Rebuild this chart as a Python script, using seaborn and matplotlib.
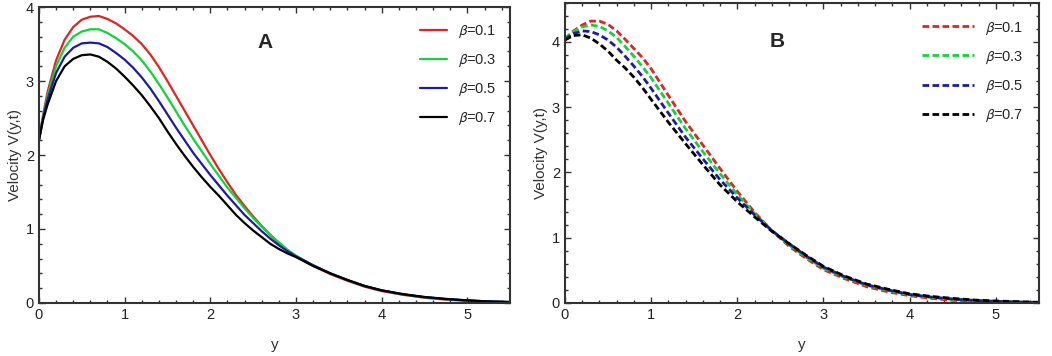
import numpy as np
import pandas as pd
import matplotlib
matplotlib.use("Agg")
import matplotlib.pyplot as plt
from matplotlib.ticker import MultipleLocator
import seaborn as sns

# panel A (solid lines)
y_a = [0, 0.05, 0.1, 0.2, 0.3, 0.4, 0.5, 0.6, 0.7, 0.8, 0.9, 1.0, 1.1, 1.2, 1.3, 1.4, 1.5, 1.6, 1.7,
       1.8, 1.9, 2.0, 2.1, 2.2, 2.3, 2.4, 2.5, 2.6, 2.7, 2.8, 2.9, 3.0, 3.2, 3.4, 3.6, 3.8, 4.0,
       4.25, 4.5, 4.75, 5.0, 5.25, 5.5]
a_b01 = [2.20, 2.55, 2.85, 3.28, 3.56, 3.73, 3.83, 3.87, 3.88, 3.84, 3.78, 3.70, 3.61, 3.50, 3.36,
         3.19, 3.00, 2.80, 2.60, 2.40, 2.20, 2.00, 1.81, 1.63, 1.46, 1.31, 1.17, 1.04, 0.92, 0.81,
         0.71, 0.63, 0.50, 0.39, 0.30, 0.22, 0.16, 0.11, 0.07, 0.045, 0.03, 0.02, 0.01]
a_b03 = [2.20, 2.53, 2.80, 3.20, 3.45, 3.60, 3.67, 3.70, 3.70, 3.65, 3.58, 3.50, 3.40, 3.28, 3.13,
         2.96, 2.78, 2.59, 2.40, 2.22, 2.05, 1.88, 1.72, 1.56, 1.42, 1.28, 1.15, 1.03, 0.92, 0.82,
         0.72, 0.64, 0.51, 0.40, 0.31, 0.23, 0.17, 0.115, 0.075, 0.05, 0.032, 0.02, 0.012]
a_b05 = [2.20, 2.51, 2.75, 3.11, 3.33, 3.45, 3.51, 3.52, 3.51, 3.46, 3.38, 3.29, 3.18, 3.05, 2.90,
         2.73, 2.55, 2.37, 2.20, 2.03, 1.88, 1.73, 1.59, 1.45, 1.32, 1.19, 1.08, 0.97, 0.87, 0.78,
         0.70, 0.63, 0.51, 0.40, 0.31, 0.23, 0.17, 0.115, 0.08, 0.052, 0.034, 0.02, 0.012]
a_b07 = [2.20, 2.48, 2.68, 3.00, 3.20, 3.30, 3.35, 3.36, 3.33, 3.26, 3.17, 3.06, 2.94, 2.81, 2.66,
         2.50, 2.32, 2.15, 1.99, 1.84, 1.70, 1.57, 1.45, 1.32, 1.19, 1.08, 0.98, 0.89, 0.80, 0.73,
         0.67, 0.62, 0.50, 0.40, 0.31, 0.23, 0.17, 0.12, 0.08, 0.055, 0.035, 0.02, 0.012]

# panel B (dashed lines)
y_b = [0, 0.1, 0.2, 0.3, 0.4, 0.5, 0.6, 0.7, 0.8, 0.9, 1.0, 1.2, 1.4, 1.6, 1.8, 2.0, 2.2, 2.4, 2.6,
       2.8, 3.0, 3.25, 3.5, 3.75, 4.0, 4.25, 4.5, 4.75, 5.0, 5.25, 5.5]
b_b01 = [4.05, 4.17, 4.26, 4.32, 4.32, 4.27, 4.17, 4.04, 3.90, 3.76, 3.59, 3.18, 2.78, 2.42, 2.06, 1.71,
         1.39, 1.11, 0.87, 0.68, 0.51, 0.37, 0.25, 0.17, 0.11, 0.07, 0.04, 0.025, 0.015, 0.008, 0.004]
b_b03 = [4.05, 4.16, 4.23, 4.26, 4.24, 4.17, 4.07, 3.93, 3.78, 3.62, 3.45, 3.06, 2.67, 2.32, 1.98, 1.66,
         1.37, 1.11, 0.89, 0.70, 0.53, 0.39, 0.27, 0.19, 0.125, 0.085, 0.055, 0.035, 0.02, 0.012, 0.006]
b_b05 = [4.04, 4.13, 4.17, 4.16, 4.11, 4.03, 3.92, 3.78, 3.63, 3.47, 3.29, 2.91, 2.54, 2.21, 1.89, 1.61,
         1.35, 1.11, 0.91, 0.72, 0.55, 0.40, 0.28, 0.20, 0.13, 0.09, 0.06, 0.04, 0.025, 0.015, 0.008]
b_b07 = [4.03, 4.10, 4.11, 4.06, 3.97, 3.86, 3.72, 3.60, 3.46, 3.30, 3.12, 2.77, 2.44, 2.12, 1.81, 1.55,
         1.32, 1.10, 0.91, 0.73, 0.56, 0.41, 0.29, 0.21, 0.14, 0.10, 0.07, 0.045, 0.03, 0.02, 0.01]

labels = [r"$\beta$=0.1", r"$\beta$=0.3", r"$\beta$=0.5", r"$\beta$=0.7"]
colors = ["#e02424", "#14d23c", "#1c1ca0", "#000000"]

df_a = pd.DataFrame({"y": y_a * 4, "V": a_b01 + a_b03 + a_b05 + a_b07,
                     "beta": np.repeat(labels, len(y_a))})
df_b = pd.DataFrame({"y": y_b * 4, "V": b_b01 + b_b03 + b_b05 + b_b07,
                     "beta": np.repeat(labels, len(y_b))})

sns.set_style("ticks")
plt.rcParams["font.family"] = ["Liberation Sans", "DejaVu Sans"]
plt.rcParams["mathtext.fontset"] = "stixsans"

fig = plt.figure(figsize=(10.52, 3.56), dpi=100)
ax1 = fig.add_axes([0.037, 0.149, 0.448, 0.831])
ax2 = fig.add_axes([0.537, 0.149, 0.4506, 0.843])

sns.lineplot(data=df_a, x="y", y="V", hue="beta", palette=colors, ax=ax1, linewidth=1.6)
sns.lineplot(data=df_b, x="y", y="V", hue="beta", palette=colors, ax=ax2, linewidth=2.0)
for line in ax2.get_lines():
    line.set_linestyle((0, (2.4, 1.2)))

panels = [(ax1, 4.0, "A", 0.48, 0.88, 1.85, (0.809, 0.947)),
          (ax2, 4.6, "B", 0.447, 0.87, 3.6, (0.753, 0.945))]
for ax, top, letter, lx, ly, hlen, anchor in panels:
    ax.set_xlim(0, 5.5)
    ax.set_ylim(0, top)
    ax.set_xlabel("y", fontsize=11, color="#333333", labelpad=12)
    ax.set_ylabel("Velocity V(y,t)", fontsize=11, color="#333333", labelpad=3)
    ax.xaxis.set_major_locator(MultipleLocator(1))
    ax.xaxis.set_minor_locator(MultipleLocator(0.2))
    ax.yaxis.set_major_locator(MultipleLocator(1))
    ax.yaxis.set_minor_locator(MultipleLocator(0.2))
    ax.tick_params(which="both", direction="in", top=True, right=True, colors="#333333",
                   labelsize=10.5, labelcolor="#222222")
    ax.tick_params(which="major", length=4, width=1)
    ax.tick_params(which="minor", length=2.5, width=1)
    for s in ax.spines.values():
        s.set_linewidth(1.5)
        s.set_color("#333333")
    ax.text(lx, ly, letter, transform=ax.transAxes, fontsize=15, fontweight="bold",
            ha="center", va="center")
    ax.legend(loc="upper left", frameon=False, fontsize=10.5, handlelength=hlen,
              labelspacing=0.82, bbox_to_anchor=anchor, borderaxespad=0, borderpad=0,
              handletextpad=0.75, title=None)

plt.savefig("out.png", dpi=100)
